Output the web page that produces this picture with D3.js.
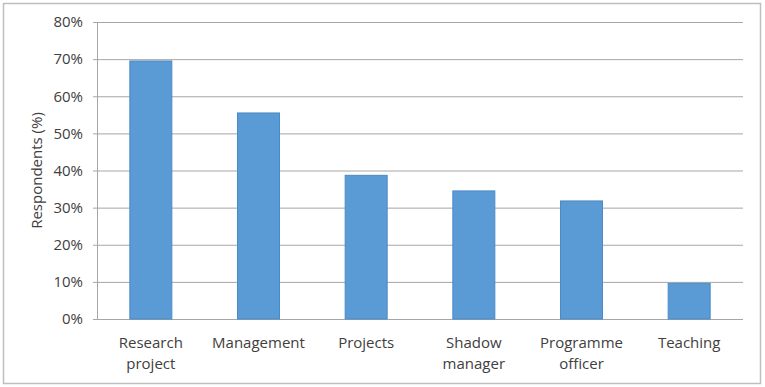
<!DOCTYPE html>
<html lang="en">
<head>
    <meta charset="UTF-8">
    <title>Respondents by role</title>
    <script type="text/javascript" src="https://cdn.jsdelivr.net/npm/d3@7"></script>
    <style type="text/css">
        body { margin: 0; background: #fff; }
        text { font-family: "Open Sans", sans-serif; fill: #404040; }
    </style>
</head>
<body>
    <script type="text/javascript">
        // data
        var categories = [["Research", "project"], ["Management"], ["Projects"], ["Shadow", "manager"], ["Programme", "officer"], ["Teaching"]];
        var values = [69.5, 55.5, 38.7, 34.5, 31.8, 9.6];
        var yTicks = [0, 10, 20, 30, 40, 50, 60, 70, 80];

        var w = 765, h = 387;
        var plotLeft = 97, plotRight = 743, plotTop = 22, plotBottom = 319;

        var svg = d3.select("body").append("svg")
            .attr("width", w)
            .attr("height", h);

        // outer border
        svg.append("rect")
            .attr("x", 3.5).attr("y", 3.5)
            .attr("width", 757).attr("height", 380)
            .attr("fill", "#fff")
            .attr("stroke", "#bfbfbf")
            .attr("stroke-width", 1.5);

        var xScale = d3.scaleBand()
            .domain(d3.range(categories.length))
            .range([plotLeft, plotRight])
            .paddingInner(0.61)
            .paddingOuter(0.305);

        var yScale = d3.scaleLinear()
            .domain([0, 80])
            .range([plotBottom, plotTop]);

        // gridlines + y axis
        var yAxis = d3.axisLeft(yScale)
            .tickValues(yTicks)
            .tickSize(-(plotRight - plotLeft))
            .tickFormat(function(d) { return d + "%"; });

        var gy = svg.append("g")
            .attr("transform", "translate(" + plotLeft + ",0)")
            .call(yAxis);
        gy.select(".domain").remove();
        gy.selectAll(".tick line")
            .attr("x1", -4)
            .attr("stroke", "#a6a6a6")
            .attr("stroke-width", 1);
        gy.selectAll(".tick text")
            .attr("x", -14)
            .attr("font-size", "15px")
            .attr("font-family", "'Open Sans', sans-serif")
            .attr("fill", "#404040");

        // left axis line
        svg.append("line")
            .attr("x1", plotLeft + 0.5).attr("x2", plotLeft + 0.5)
            .attr("y1", plotTop).attr("y2", plotBottom)
            .attr("stroke", "#a6a6a6");

        // bars
        svg.selectAll("rect.bar")
            .data(values)
            .enter()
            .append("rect")
            .attr("class", "bar")
            .attr("x", function(d, i) { return xScale(i); })
            .attr("width", xScale.bandwidth())
            .attr("y", function(d) { return yScale(d); })
            .attr("height", function(d) { return yScale(0) - yScale(d); })
            .attr("fill", "#5b9bd5")
            .attr("stroke", "#4a8ac6")
            .attr("stroke-width", 1);

        // category labels
        var labels = svg.selectAll("text.cat")
            .data(categories)
            .enter()
            .append("text")
            .attr("class", "cat")
            .attr("text-anchor", "middle")
            .attr("font-size", "15px")
            .attr("x", function(d, i) { return xScale(i) + xScale.bandwidth() / 2; })
            .attr("y", 348);
        labels.selectAll("tspan")
            .data(function(d) { return d; })
            .enter()
            .append("tspan")
            .attr("x", function() { return d3.select(this.parentNode).attr("x"); })
            .attr("dy", function(d, i) { return i === 0 ? 0 : 21; })
            .text(function(d) { return d; });

        // y axis title
        svg.append("text")
            .attr("transform", "translate(42," + (plotTop + plotBottom) / 2 + ") rotate(-90)")
            .attr("text-anchor", "middle")
            .attr("font-size", "15px")
            .text("Respondents (%)");
    </script>
</body>
</html>
